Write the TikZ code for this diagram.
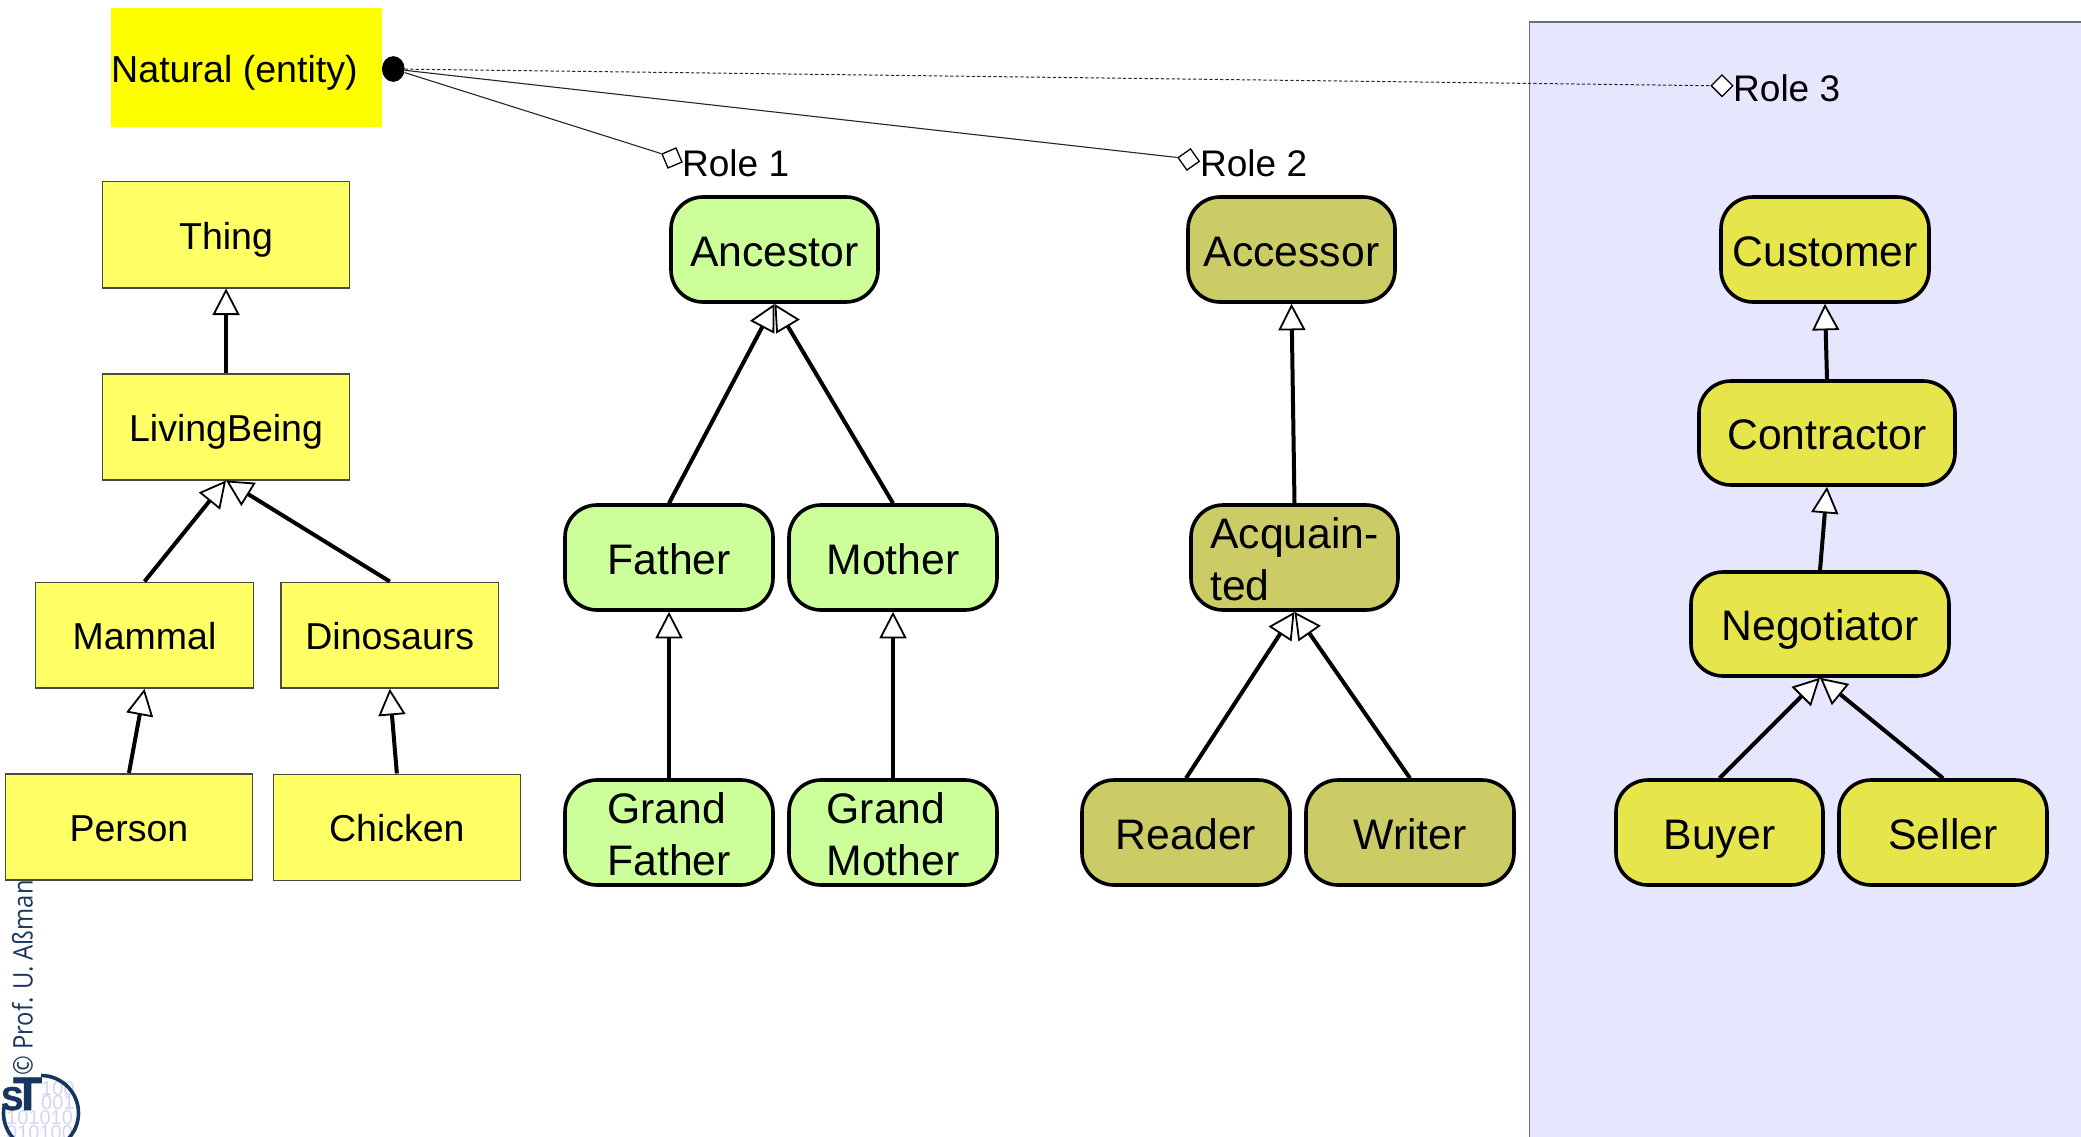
\documentclass[tikz,border=0pt]{standalone}
\usepackage{fontspec}
\setmainfont{Liberation Sans}
\newfontfamily\logofont[FakeStretch=0.88]{Open Sans}
\newfontfamily\stfont[BoldFeatures={FakeBold=1.5}]{Liberation Sans}
\usetikzlibrary{arrows.meta,shapes.geometric}
\definecolor{natyellow}{HTML}{FFFF00}
\definecolor{boxyellow}{HTML}{FFFF66}
\definecolor{boxedge}{HTML}{4A4A3A}
\definecolor{rolegreen}{HTML}{CCFF99}
\definecolor{roleolive}{HTML}{CCCC66}
\definecolor{roleyellow}{HTML}{E6E64C}
\definecolor{panelblue}{HTML}{E6E6FF}
\definecolor{paneledge}{HTML}{6E6E80}
\definecolor{logoblue}{HTML}{17365F}
\definecolor{logobits}{HTML}{D4D4F5}
\tikzset{
  plainbox/.style={rectangle,draw=boxedge,line width=1.6pt,fill=boxyellow,inner sep=0pt,
    font=\fontsize{37.5}{44}\selectfont,text height=28.7pt,text depth=0pt},
  roundbox/.style={rectangle,draw=black,line width=3.6pt,rounded corners=32pt,inner sep=0pt,
    font=\fontsize{42.7}{51.8}\selectfont,text height=33pt,text depth=0pt},
  twoline/.style={align=left,text height=,text depth=,yshift=-2pt},
  gen/.style={draw=black,line width=4pt,-{Triangle[open,length=26.5pt,width=27pt,line width=1.8pt,fill=white]}},
  roleline/.style={draw=black!85,line width=1.1pt},
  rolemark/.style={diamond,draw=black,fill=white,line width=1.3pt,inner sep=0pt,minimum width=22pt,minimum height=22pt},
  rolelabel/.style={anchor=base west,inner sep=0pt,font=\fontsize{37}{44}\selectfont},
  bits/.style={anchor=base west,inner sep=0pt,text=logobits,font=\fontsize{20}{24}\selectfont},
}
\newcommand{\bx}[7]{%
  \node[#2,minimum width={(#5-#3-2)*1pt},minimum height={(#6-#4-2)*1pt}] (#1) at ({(#3+#5)/2},{(#4+#6)/2}) {#7};}
\newcommand{\px}[7]{%
  \node[#2,minimum width={(#5-#3)*1pt},minimum height={(#6-#4)*1pt}] (#1) at ({(#3+#5)/2},{(#4+#6)/2}) {#7};}
\begin{document}
\begin{tikzpicture}[x=1pt,y=-1pt]
\useasboundingbox (0,0) rectangle (2081,1137);
\clip (0,0) rectangle (2081,1137);
% panel
\node[rectangle,draw=paneledge,line width=1.2pt,fill=panelblue,inner sep=0pt,minimum width=600pt,minimum height=1200pt,anchor=north west] (panel) at (1528.5,21.5) {};
% logo
\node[bits] (bitsa) at (41,1095) {100};
\node[bits] (bitsb) at (41,1109.5) {001};
\node[bits] (bitsc) at (6,1124.5) {101010};
\node[bits] (bitsd) at (6,1139.5) {010100};
\draw[logoblue,line width=3.6pt] (41,1075.5) arc[start angle=-90,end angle=190,radius=37.5];
\node[anchor=base west,inner sep=0pt,text=logoblue,font=\stfont\fontsize{47}{50}\selectfont\bfseries] (logot) at (13,1110) {T};
\node[anchor=base west,inner sep=0pt,text=logoblue,font=\stfont\fontsize{33}{36}\selectfont\bfseries] (logos) at (1,1110) {S};
\node[anchor=base west,inner sep=0pt,rotate=90,text=logoblue,font=\logofont\fontsize{27}{30}\selectfont] (copyr) at (32.7,1076) {© Prof. U. Aßman};
% natural
\node[rectangle,fill=natyellow,inner sep=0pt,minimum width=271.5pt,minimum height=119pt] (natural) at (246.25,67.5) {};
\node[anchor=base west,inner sep=0pt,font=\fontsize{37.6}{44}\selectfont] (naturaltext) at (111,82.7) {Natural (entity)};
\node[ellipse,fill=black,inner sep=0pt,minimum width=22.7pt,minimum height=25.7pt] (dot) at (393.3,69) {};
% roles
\node[rolemark,rotate=-22] (mone) at (672,158) {};
\node[rolemark,rotate=-10] (mtwo) at (1188.7,159.5) {};
\node[rolemark] (mthree) at (1722,85.7) {};
\node[rolelabel] (rone) at (682,176.3) {Role 1};
\node[rolelabel] (rtwo) at (1200,176.3) {Role 2};
\node[rolelabel] (rthree) at (1733,101.3) {Role 3};
\draw[roleline] (dot) -- (mone.west);
\draw[roleline] (dot) -- (mtwo.west);
\draw[roleline,line width=1pt,dash pattern=on 3.2pt off 2.2pt] (dot) -- (mthree.west);
% left hierarchy
\px{thing}{plainbox}{102.6}{181.7}{349.5}{287.7}{Thing}
\px{living}{plainbox}{102.6}{373.7}{349.5}{479.7}{LivingBeing}
\px{mammal}{plainbox}{35.5}{582.3}{253.5}{688}{Mammal}
\px{dino}{plainbox}{281}{582.3}{498.6}{688}{Dinosaurs}
\px{person}{plainbox}{5.5}{773.7}{252.4}{879.7}{Person}
\px{chicken}{plainbox}{273.4}{774.3}{520.3}{880.3}{Chicken}
% role 1
\bx{ancestor}{roundbox,fill=rolegreen}{670}{196}{879}{303}{Ancestor}
\bx{father}{roundbox,fill=rolegreen}{564}{504}{774}{611}{Father}
\bx{mother}{roundbox,fill=rolegreen}{788}{504}{998}{611}{Mother}
\bx{gfather}{roundbox,fill=rolegreen}{564}{779}{774}{886}{}
\bx{gmother}{roundbox,fill=rolegreen}{788}{779}{998}{886}{}
\node[roundbox,draw=none,rounded corners=0pt,twoline] (gftext) at (gfather.center) {Grand\\Father};
\node[roundbox,draw=none,rounded corners=0pt,twoline] (gmtext) at (gmother.center) {Grand\\Mother};
% role 2
\bx{accessor}{roundbox,fill=roleolive}{1187}{196}{1396}{303}{Accessor}
\bx{acquainted}{roundbox,fill=roleolive}{1190}{504}{1399}{611}{}
\node[roundbox,draw=none,rounded corners=0pt,twoline] (actext) at (acquainted.center) {Acquain-\\ted};
\bx{reader}{roundbox,fill=roleolive}{1081}{779}{1291}{886}{Reader}
\bx{writer}{roundbox,fill=roleolive}{1305}{779}{1515}{886}{Writer}
% role 3
\bx{customer}{roundbox,fill=roleyellow}{1720}{196}{1930}{303}{Customer}
\bx{contractor}{roundbox,fill=roleyellow}{1698}{380}{1956}{486}{Contractor}
\bx{negotiator}{roundbox,fill=roleyellow}{1690}{571}{1950}{677}{Negotiator}
\bx{buyer}{roundbox,fill=roleyellow}{1615}{779}{1824}{886}{Buyer}
\bx{seller}{roundbox,fill=roleyellow}{1838}{779}{2048}{886}{Seller}
% generalisations
\draw[gen] (living.north) -- (thing.south);
\draw[gen] (mammal.north) -- (living.south);
\draw[gen] (dino.north) -- (living.south);
\draw[gen] (person.north) -- (mammal.south);
\draw[gen] (chicken.north) -- (dino.south);
\draw[gen] (father.north) -- (ancestor.south);
\draw[gen] (mother.north) -- (ancestor.south);
\draw[gen] (gfather.north) -- (father.south);
\draw[gen] (gmother.north) -- (mother.south);
\draw[gen] (acquainted.north) -- (accessor.south);
\draw[gen] (reader.north) -- (acquainted.south);
\draw[gen] (writer.north) -- (acquainted.south);
\draw[gen] (contractor.north) -- (customer.south);
\draw[gen] (negotiator.north) -- (contractor.south);
\draw[gen] (buyer.north) -- (negotiator.south);
\draw[gen] (seller.north) -- (negotiator.south);
\end{tikzpicture}
\end{document}
